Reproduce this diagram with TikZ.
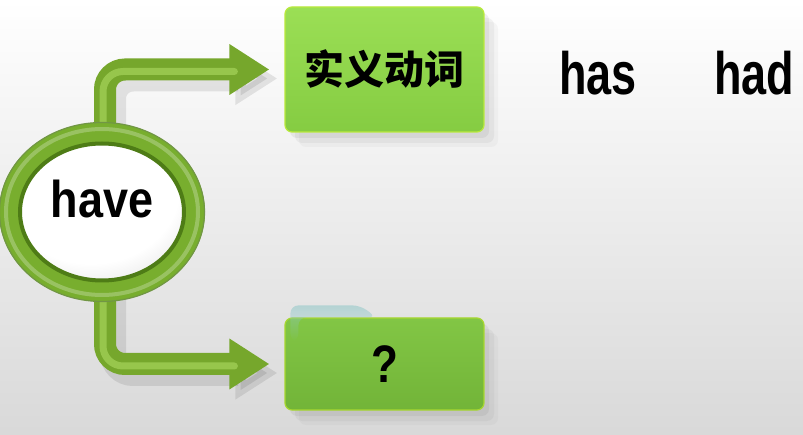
\documentclass[tikz,border=0pt]{standalone}
\usepackage{fontspec}
\setmainfont{Liberation Sans}
\newfontfamily\cjk{Noto Sans CJK SC}
\usetikzlibrary{arrows.meta,shapes.geometric,shadows,fadings}
\pgfdeclarelayer{back}
\pgfdeclarelayer{pipes}
\pgfsetlayers{back,pipes,main}
\pgfdeclareradialshading{pearl}{\pgfpoint{-4bp}{10bp}}{%
  color(0bp)=(white); color(24bp)=(white); color(44bp)=(black!20); color(60bp)=(black!30); color(100bp)=(black!30)}
\definecolor{pipegreen}{HTML}{76A72C}
\definecolor{pipelight}{HTML}{A3D158}
\definecolor{ringgreen}{HTML}{78AE2E}
\definecolor{ringdark}{HTML}{4E7C16}
\definecolor{boxtop}{HTML}{9BDF55}
\definecolor{boxbot}{HTML}{85CC42}
\definecolor{boxtwotop}{HTML}{82C645}
\definecolor{boxtwobot}{HTML}{72B438}
\begin{document}
\begin{tikzpicture}[x=1pt,y=-1pt,
  greenbox/.style={rectangle, rounded corners=7pt, draw=#1!70!yellow, line width=1.2pt,
    drop shadow={opacity=.12, shadow xshift=5pt, shadow yshift=-6pt},
    drop shadow={opacity=.09, shadow xshift=10pt, shadow yshift=-11pt},
    drop shadow={opacity=.06, shadow xshift=14pt, shadow yshift=-15pt}},
  hub/.style={ellipse, minimum width=184pt, minimum height=157pt, inner sep=0pt,
    draw=ringgreen, line width=22pt, shading=pearl},
  pipe/.style={draw=pipegreen, line width=22pt, rounded corners=20pt,
    -{Triangle[width=48pt,length=40pt]}, shorten >=15pt},
  pipeshine/.style={draw=pipelight, line width=7pt, rounded corners=20pt,
    opacity=.75, shorten >=50pt, line cap=round},
  pipeshade/.style={draw=black, opacity=.09, line width=26pt, rounded corners=20pt,
    -{Triangle[width=50pt,length=42pt]}, shorten >=15pt},
  word/.style={inner sep=0pt, anchor=base}]
\useasboundingbox (0,0) rectangle (803,435);

% backdrop: white fading into light grey towards the bottom
\begin{pgfonlayer}{back}
  \shade[top color=white, middle color=white!96!black, bottom color=white!85!black]
    (0,0) rectangle (803,435);
\end{pgfonlayer}

% the central word and the two target boxes
\node[hub] (hv) at (102,212)
  {\raisebox{-6pt}[0pt][0pt]{\scalebox{1}[1.15]{\bfseries\fontsize{45}{50}\selectfont have}}};
\draw[ringdark, line width=4pt] (hv.center) ellipse [x radius=82, y radius=68.5];
\draw[ringdark!80, line width=1.2pt] (hv.center) ellipse [x radius=102.5, y radius=89.5];
\draw[white, opacity=.25, line width=4pt] (hv.center) ellipse [x radius=96, y radius=83];

\node[greenbox=boxtop, top color=boxtop, bottom color=boxbot,
  minimum width=199pt, minimum height=125pt] (verb) at (384.5,69.5)
  {\cjk\bfseries\fontsize{40}{44}\selectfont 实义动词};
\node[greenbox=boxtwotop, top color=boxtwotop, bottom color=boxtwobot,
  minimum width=199pt, minimum height=92pt] (ask) at (384.5,364)
  {\scalebox{1}[1.2]{\bfseries\fontsize{44}{48}\selectfont ?}};
% glossy reflection at the upper left of the lower box, dying away downwards
\fill[teal!45!white, opacity=.55, rounded corners=8pt, path fading=south]
  ([xshift=6pt,yshift=-24pt]ask.north west) -- ++(0,-36) -- ++(70,0) -- ++(16,12)
  -- ++(-78,0) -- ++(0,24) -- cycle;

% inflected forms
\node[word] (has) at (598,95) {\scalebox{1}[1.33]{\bfseries\fontsize{45}{50}\selectfont has}};
\node[word] (had) at (754,95) {\scalebox{1}[1.33]{\bfseries\fontsize{45}{50}\selectfont had}};

% green pipes from the word to both boxes
\begin{pgfonlayer}{pipes}
  \begin{scope}[transform canvas={shift={(8pt,-9pt)}}]
    \draw[pipeshade] ([xshift=3pt]hv.center) |- (verb.west);
    \draw[pipeshade] ([xshift=3pt]hv.center) |- (ask.west);
  \end{scope}
  \draw[pipe] ([xshift=3pt]hv.center) |- (verb.west);
  \draw[pipe] ([xshift=3pt]hv.center) |- (ask.west);
  \draw[pipeshine] ([xshift=1pt]hv.center) |- ([yshift=-2pt]verb.west);
  \draw[pipeshine] ([xshift=1pt]hv.center) |- ([yshift=-2pt]ask.west);
\end{pgfonlayer}
\end{tikzpicture}
\end{document}
